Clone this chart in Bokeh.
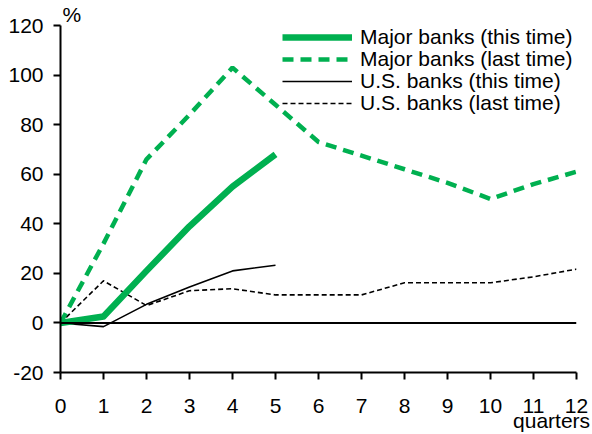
from bokeh.plotting import figure
from bokeh.models import (Range1d, FixedTicker, Span, Title, Legend, LegendItem,
                          PrintfTickFormatter, LinearAxis, CustomJSTickFormatter)
from bokeh.embed import file_html
from bokeh.resources import INLINE

quarters = [0, 1, 2, 3, 4, 5, 6, 7, 8, 9, 10, 11, 12]
major_this = [0, 2.6, 21, 39, 55, 68]
major_last = [0, 32, 66, 84, 103, 88, 73, 67.5, 62, 56.5, 50, 56, 61]
us_this = [0, -1.5, 7.5, 14.5, 21, 23.3]
us_last = [0, 17, 7, 13, 13.8, 11.3, 11.3, 11.3, 16.2, 16.2, 16.2, 18.6, 21.7]
y_ticks = [-20, 0, 20, 40, 60, 80, 100, 120]
series_names = ["Major banks (this time)", "Major banks (last time)",
                "U.S. banks (this time)", "U.S. banks (last time)"]
y_unit = "%"
x_unit = "quarters"

GREEN = "#00B050"
FONT = "Liberation Sans"

p = figure(width=592, height=434, output_backend="svg", toolbar_location=None,
           x_range=Range1d(0, 12), y_range=Range1d(-20, 120),
           min_border_left=60, min_border_right=16, min_border_top=24, min_border_bottom=62)
p.outline_line_color = None
p.grid.visible = False
p.background_fill_color = "white"

for ax in (p.xaxis[0], p.yaxis[0]):
    ax.axis_line_width = 2
    ax.axis_line_color = "black"
    ax.major_tick_line_width = 2
    ax.major_tick_line_color = "black"
    ax.major_tick_out = 7
    ax.major_tick_in = 0
    ax.minor_tick_line_color = None
    ax.major_label_text_font = FONT
    ax.major_label_text_font_size = "21px"
    ax.major_label_text_color = "black"
    ax.formatter = PrintfTickFormatter(format="%d")

p.xaxis[0].ticker = FixedTicker(ticks=quarters)
p.xaxis[0].major_label_standoff = 19
p.yaxis[0].ticker = FixedTicker(ticks=y_ticks)
p.yaxis[0].major_label_standoff = 10

# unit label under the last ticks ("quarters"), as a label-only axis
unit_axis = LinearAxis(ticker=FixedTicker(ticks=[11.42]),
                       formatter=CustomJSTickFormatter(code="return '%s'" % x_unit),
                       axis_line_color=None, major_tick_line_color=None,
                       minor_tick_line_color=None, major_tick_out=0, major_tick_in=0,
                       major_label_standoff=-7, major_label_text_font=FONT,
                       major_label_text_font_size="21px", major_label_text_color="black")
p.add_layout(unit_axis, "below")

# "%" above the y axis
p.add_layout(Title(text=y_unit, align="left", offset=2, standoff=0, vertical_align="bottom",
                   text_font=FONT, text_font_size="21px", text_font_style="normal",
                   text_color="black"), "above")

p.add_layout(Span(location=0, dimension="width", line_color="black", line_width=2))

n_ul = len(us_last)
n_ut = len(us_this)
r_ul = p.line(quarters[:n_ul], us_last, line_color="black", line_width=1.6, line_dash="5 3")
r_ut = p.line(quarters[:n_ut], us_this, line_color="black", line_width=1.6)
r_ml = p.line(quarters[:len(major_last)], major_last, line_color=GREEN, line_width=4.5, line_dash="11 7")
r_mt = p.line(quarters[:len(major_this)], major_this, line_color=GREEN, line_width=6.5, line_join="round")

renderers = [r_mt, r_ml, r_ut, r_ul]
for i, (name, r) in enumerate(zip(series_names, renderers)):
    leg = Legend(items=[LegendItem(label=name, renderers=[r])],
                 location=(222, 323 - 22 * i), padding=0, margin=0, spacing=0,
                 glyph_width=70, glyph_height=20, label_standoff=8, label_height=20,
                 label_text_font=FONT, label_text_font_size="21px", label_text_color="black",
                 border_line_alpha=0, background_fill_alpha=0)
    p.add_layout(leg)

open("out.html", "w").write(file_html(p, INLINE))
